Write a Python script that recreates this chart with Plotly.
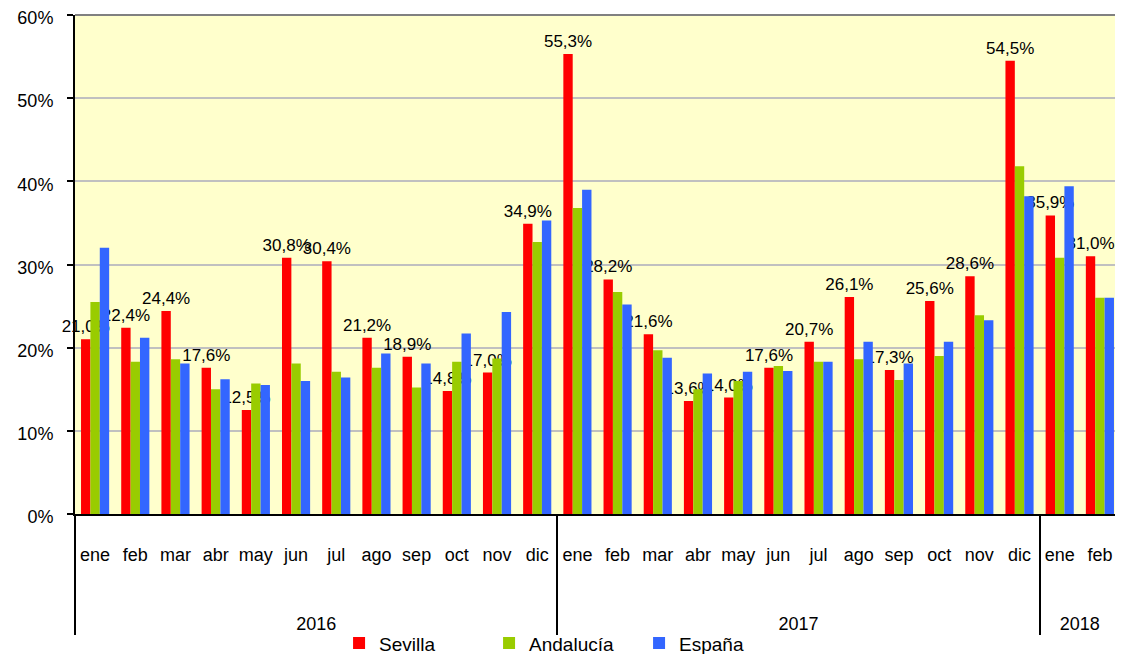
import plotly.graph_objects as go

years = ["2016"] * 12 + ["2017"] * 12 + ["2018"] * 2
months = ["ene", "feb", "mar", "abr", "may", "jun", "jul", "ago", "sep", "oct", "nov", "dic"] * 2 + ["ene", "feb"]
y_ticks = [0, 10, 20, 30, 40, 50, 60]

sevilla = [21.0, 22.4, 24.4, 17.6, 12.5, 30.8, 30.4, 21.2, 18.9, 14.8, 17.0, 34.9,
           55.3, 28.2, 21.6, 13.6, 14.0, 17.6, 20.7, 26.1, 17.3, 25.6, 28.6, 54.5,
           35.9, 31.0]
andalucia = [25.5, 18.3, 18.6, 15.0, 15.7, 18.1, 17.1, 17.6, 15.2, 18.3, 18.7, 32.7,
             36.8, 26.7, 19.7, 15.0, 16.0, 17.8, 18.3, 18.6, 16.1, 19.0, 23.9, 41.8,
             30.8, 26.0]
espana = [32.0, 21.2, 18.1, 16.2, 15.5, 16.0, 16.4, 19.3, 18.1, 21.7, 24.3, 35.3,
          39.0, 25.2, 18.8, 16.9, 17.1, 17.2, 18.3, 20.7, 18.1, 20.7, 23.3, 38.2,
          39.4, 26.0]

FONT = "Liberation Sans, Arial, sans-serif"
# leading line breaks push the two label rows down, as in the reference
x = [["<br><br><br>" + y for y in years], ["<br>" + m for m in months]]

fig = go.Figure()
fig.add_trace(go.Bar(
    x=x, y=sevilla, name="Sevilla", marker=dict(color="#FF0000", line=dict(width=0)),
    texttemplate="%{y:.1f}%", textposition="outside", constraintext="none",
    textfont=dict(size=17, color="black", family=FONT), cliponaxis=False,
))
fig.add_trace(go.Bar(
    x=x, y=andalucia, name="Andalucía", marker=dict(color="#99CC00", line=dict(width=0)),
))
fig.add_trace(go.Bar(
    x=x, y=espana, name="España", marker=dict(color="#3366FF", line=dict(width=0)),
))

# the page body has an 8px margin, so the figure is 1115x646 and offsets are reduced by 8
fig.update_layout(
    width=1115, height=646,
    margin=dict(l=67, r=3, t=7, b=140, autoexpand=False),
    paper_bgcolor="white",
    plot_bgcolor="#FFFFCC",
    barmode="group", bargap=0.3, bargroupgap=0,
    separators=",.",
    font=dict(family=FONT, size=17, color="black"),
    showlegend=True,
    legend=dict(orientation="h", x=0.468, xanchor="center", y=-0.259, yanchor="middle",
                font=dict(size=19), bgcolor="rgba(0,0,0,0)",
                entrywidth=105, entrywidthmode="pixels"),
    shapes=[
        dict(type="line", xref="paper", yref="paper", x0=0, x1=1, y0=1, y1=1,
             line=dict(color="#808080", width=2)),
        dict(type="line", xref="paper", yref="paper", x0=1, x1=1, y0=0, y1=1,
             line=dict(color="#808080", width=2)),
    ],
)
fig.update_yaxes(
    range=[0, 60], tickmode="array", tickvals=y_ticks,
    ticktext=[f"{v}%" for v in y_ticks],
    showgrid=True, gridcolor="#C0C0C0", gridwidth=1.5,
    showline=True, linecolor="black", linewidth=2,
    ticks="outside", ticklen=6, tickcolor="black", tickwidth=1.5,
    ticklabelstandoff=10, ticklabeloverflow="allow", ticklabelshift=3,
    tickfont=dict(size=18), automargin=False, zeroline=False,
)
fig.update_xaxes(
    type="multicategory", showline=True, linecolor="black", linewidth=2,
    showdividers=True, dividercolor="black", dividerwidth=2,
    tickfont=dict(size=18), tickangle=0, automargin=False, showgrid=False,
)

fig.write_html("out.html")
